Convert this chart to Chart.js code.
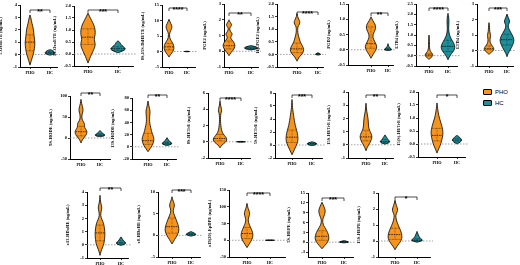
<!DOCTYPE html>
<html>
<head>
<meta charset="utf-8">
<script src="https://cdn.jsdelivr.net/npm/chart.js@4.4.0/dist/chart.umd.min.js"></script>
<style>
  body { margin: 0; width: 520px; height: 265px; background: #fff; position: relative; overflow: hidden; }
  canvas { position: absolute; }
  .lg { position: absolute; font-family: "Liberation Sans", Arial, sans-serif; font-size: 6px; color: #000; line-height: 6px; }
  .sw { display: inline-block; width: 7px; height: 4px; border: 0.6px solid #000; border-radius: 1px; vertical-align: middle; margin-right: 3px; }
</style>
</head>
<body>
<div class="lg" style="left:483px;top:89px"><span class="sw" style="background:#F7941D"></span>PHO</div>
<div class="lg" style="left:483px;top:100px"><span class="sw" style="background:#1F8E99"></span>HC</div>
<script>
// ---- data ----
const groups = ['PHO', 'HC'];
const analytes = ['5-OxoETE', '15-OxoETE', '8S,15S-DiHETE', 'PGE2', '11β-PGE2', 'PGD2', 'LTB4', 'LTD4',
  '9S-HODE', '13S-HODE', '8S-HETrE', '5S-HETrE', '15S-HETrE', '15(S)-HETrE',
  '±13-HDoHE', '±8-HDoHE', '±19(20)-EpDPE', '5S-HEPE', '15S-HEPE'];
const stars = ['**', '***', '****', '**', '****', '**', '****', '***',
  '**', '**', '****', '***', '**', '*',
  '**', '***', '****', '***', '*'];
const yMin = [-1, -0.5, -5, -1, -0.5, -0.5, -0.5, -1, -50, -20, -2, -2, -1, -0.5, -1, -5, -50, -4.5, -1];
const yMax = [4, 2, 15, 3, 2, 1.5, 2.5, 3, 100, 80, 6, 8, 4, 2, 4, 10, 150, 15, 3];
const yStep = [1, 0.5, 5, 1, 0.5, 0.5, 0.5, 1, 50, 20, 2, 2, 1, 0.5, 1, 5, 50, 3, 1];

// violin profiles: value levels and relative density (0..1)
const phoY = [
  [-0.85, -0.5, 0, 0.5, 1.0, 1.5, 2.0, 2.5, 3.0, 3.2],
  [-0.38, -0.2, 0, 0.2, 0.4, 0.6, 0.8, 1.0, 1.2, 1.4, 1.55, 1.7],
  [-1.8, -1, 0, 1, 2, 3, 4, 5, 6, 7, 8, 9, 10.4],
  [-0.28, -0.1, 0.1, 0.3, 0.5, 0.7, 0.85, 1.0, 1.1, 1.2, 1.35, 1.5, 1.65, 1.75, 1.9, 2.0],
  [-0.27, -0.1, 0.05, 0.2, 0.35, 0.5, 0.65, 0.8, 0.95, 1.1, 1.2, 1.3, 1.4, 1.5, 1.62],
  [-0.28, -0.15, -0.02, 0.1, 0.22, 0.35, 0.45, 0.55, 0.65, 0.75, 0.85, 0.95, 1.08],
  [-0.18, -0.08, 0, 0.08, 0.15, 0.25, 0.4, 0.6, 0.8, 1.0],
  [-0.25, -0.1, 0.05, 0.2, 0.35, 0.5, 0.7, 0.9, 1.05, 1.2, 1.5, 1.8],
  [-12, -5, 0, 5, 10, 15, 20, 25, 30, 35, 40, 45, 55, 62, 68, 75, 82, 92],
  [-8, -3, 2, 7, 12, 17, 22, 27, 32, 38, 45, 52, 58, 63, 68, 75],
  [-0.75, -0.4, -0.1, 0.2, 0.5, 0.8, 1.1, 1.5, 2.0, 2.5, 3.0, 3.5, 3.8, 4.1, 4.5, 5.0],
  [-1.5, -1, -0.5, 0, 0.5, 1, 1.5, 2, 2.5, 3, 3.5, 4, 4.5, 5, 5.5, 6, 7],
  [-0.45, -0.2, 0, 0.2, 0.4, 0.6, 0.8, 1.0, 1.2, 1.5, 1.8, 2.1, 2.4, 2.7, 3.15],
  [-0.35, -0.2, -0.05, 0.1, 0.25, 0.4, 0.55, 0.7, 0.85, 1.0, 1.15, 1.3, 1.45, 1.58],
  [-0.8, -0.5, -0.2, 0.1, 0.4, 0.8, 1.2, 1.6, 1.9, 2.2, 2.5, 2.8, 3.1, 3.4, 3.75],
  [-2, -1, 0, 1, 2, 3, 4, 5, 5.7, 6.5, 7, 7.6, 8.2, 8.9],
  [-22, -12, -2, 8, 18, 28, 38, 48, 58, 66, 74, 82, 90, 100, 110],
  [-2, -1, 0, 1, 2, 3, 4, 5, 6, 7, 8, 9, 10, 11, 12.2],
  [-0.55, -0.35, -0.15, 0.05, 0.25, 0.45, 0.65, 0.85, 1.05, 1.3, 1.6, 1.8, 2.0, 2.2, 2.55]
];
const phoD = [
  [0, 0.25, 0.65, 0.9, 1, 0.8, 0.72, 0.4, 0.16, 0],
  [0, 0.2, 0.45, 0.75, 0.95, 0.75, 0.9, 0.9, 0.75, 0.45, 0.22, 0],
  [0, 0.3, 0.8, 1, 0.93, 0.65, 0.22, 0.1, 0.14, 0.43, 0.65, 0.36, 0],
  [0, 0.3, 0.75, 1, 0.93, 0.55, 0.22, 0.45, 0.55, 0.37, 0.11, 0.15, 0.45, 0.37, 0.11, 0],
  [0, 0.3, 0.85, 1, 0.75, 0.45, 0.3, 0.15, 0.09, 0.12, 0.36, 0.42, 0.24, 0.09, 0],
  [0, 0.35, 0.8, 1, 0.75, 0.4, 0.3, 0.45, 0.7, 0.8, 0.65, 0.3, 0],
  [0, 0.6, 1, 0.9, 0.6, 0.25, 0.12, 0.1, 0.08, 0],
  [0, 0.5, 1, 0.9, 0.5, 0.25, 0.18, 0.3, 0.3, 0.15, 0.1, 0],
  [0, 0.2, 0.45, 0.75, 0.95, 1, 0.85, 0.6, 0.6, 0.55, 0.35, 0.15, 0.15, 0.3, 0.35, 0.25, 0.1, 0],
  [0, 0.35, 0.7, 0.9, 1, 0.9, 0.7, 0.55, 0.45, 0.3, 0.25, 0.3, 0.35, 0.25, 0.12, 0],
  [0, 0.25, 0.75, 1, 0.9, 0.6, 0.35, 0.2, 0.12, 0.07, 0.07, 0.12, 0.25, 0.2, 0.08, 0],
  [0, 0.25, 0.5, 0.75, 0.95, 1, 0.95, 0.85, 0.7, 0.55, 0.45, 0.35, 0.28, 0.2, 0.12, 0.06, 0],
  [0, 0.2, 0.45, 0.7, 0.9, 1, 0.9, 0.7, 0.5, 0.4, 0.38, 0.3, 0.18, 0.08, 0],
  [0, 0.25, 0.55, 0.75, 0.9, 1, 0.95, 0.8, 0.6, 0.4, 0.25, 0.15, 0.06, 0],
  [0, 0.2, 0.5, 0.8, 0.9, 1, 0.9, 0.75, 0.4, 0.12, 0.2, 0.4, 0.2, 0.06, 0],
  [0, 0.35, 0.75, 1, 0.95, 0.75, 0.5, 0.25, 0.15, 0.3, 0.35, 0.25, 0.1, 0],
  [0, 0.35, 0.7, 0.95, 1, 0.85, 0.6, 0.35, 0.2, 0.25, 0.4, 0.45, 0.3, 0.1, 0],
  [0, 0.4, 0.8, 1, 0.95, 0.8, 0.55, 0.25, 0.1, 0.1, 0.3, 0.45, 0.45, 0.25, 0],
  [0, 0.25, 0.6, 0.9, 1, 0.95, 0.8, 0.6, 0.4, 0.2, 0.08, 0.3, 0.4, 0.2, 0]
];
const hcY = [
  [-0.05, 0.05, 0.15, 0.25, 0.35, 0.4],
  [0.05, 0.12, 0.2, 0.3, 0.4, 0.5, 0.55],
  [-0.1, 0, 0.1],
  [0.08, 0.15, 0.22, 0.3, 0.36],
  [-0.03, 0.0, 0.03, 0.07],
  [-0.03, 0.0, 0.03, 0.08, 0.15, 0.2],
  [-0.2, -0.05, 0.1, 0.25, 0.4, 0.55, 0.7, 0.85, 1.0, 1.2, 1.4, 1.6, 1.8, 1.95, 2.05],
  [-0.4, -0.2, 0, 0.2, 0.4, 0.6, 0.8, 1.0, 1.2, 1.4, 1.6, 1.75, 1.9, 2.1, 2.35],
  [3, 5, 8, 11, 14, 18],
  [2, 4, 6, 8, 11, 15],
  [-0.05, 0, 0.05],
  [-0.1, 0.05, 0.2, 0.35, 0.5],
  [0.05, 0.15, 0.25, 0.4, 0.55, 0.75],
  [0, 0.08, 0.15, 0.22, 0.3, 0.33],
  [-0.05, 0.05, 0.15, 0.3, 0.45, 0.6],
  [-0.2, 0.1, 0.3, 0.6, 0.9],
  [-1, 0, 1],
  [-0.2, 0, 0.2, 0.5],
  [-0.08, 0, 0.05, 0.15, 0.3, 0.45, 0.6]
];
const hcD = [
  [0, 0.9, 1, 0.8, 0.45, 0],
  [0, 0.55, 1, 0.7, 0.35, 0.2, 0],
  [0, 1, 0],
  [0, 0.8, 1, 0.6, 0],
  [0, 1, 0.6, 0],
  [0, 1, 0.8, 0.3, 0.1, 0],
  [0, 0.2, 0.5, 0.85, 1, 0.9, 0.65, 0.4, 0.22, 0.1, 0.1, 0.14, 0.12, 0.06, 0],
  [0, 0.15, 0.4, 0.65, 0.85, 1, 0.95, 0.75, 0.5, 0.25, 0.15, 0.3, 0.4, 0.2, 0],
  [0, 0.9, 1, 0.5, 0.3, 0],
  [0, 0.9, 1, 0.6, 0.3, 0],
  [0, 1, 0],
  [0, 0.8, 1, 0.7, 0],
  [0, 0.8, 1, 0.6, 0.35, 0],
  [0, 0.7, 1, 0.7, 0.3, 0],
  [0, 0.8, 1, 0.5, 0.25, 0],
  [0, 0.9, 1, 0.5, 0],
  [0, 1, 0],
  [0, 1, 0.8, 0],
  [0, 0.7, 1, 0.6, 0.3, 0.15, 0]
];
// quartiles [Q1, median, Q3]
const phoQ = [[0.3, 1.0, 1.6], [0.4, 0.7, 1.05], [0.5, 1.5, 2.6], [0.15, 0.35, 0.65], [0.07, 0.22, 0.45],
  [0.05, 0.2, 0.75], [-0.02, 0.03, 0.1], [0.05, 0.12, 0.3], [5, 15, 28], [4, 10, 22], [0.1, 0.4, 0.9],
  [0.4, 1.2, 2.3], [0.3, 0.6, 1.1], [0.12, 0.33, 0.6], [0.3, 0.9, 1.5], [0.5, 2, 4], [5, 20, 38],
  [0.6, 1.8, 3.5], [0.1, 0.4, 0.8]];
const hcQ = [[0.08, 0.15, 0.25], [0.15, 0.22, 0.3], [0, 0, 0], [0.15, 0.2, 0.26], [0.01, 0.02, 0.04],
  [0, 0.02, 0.05], [0.2, 0.45, 0.75], [0.35, 0.7, 1.05], [5, 7, 10], [4, 6, 8], [0, 0, 0],
  [0.1, 0.2, 0.3], [0.15, 0.25, 0.4], [0.08, 0.15, 0.22], [0.05, 0.15, 0.3], [0.1, 0.3, 0.5],
  [0, 0, 0], [0, 0.1, 0.2], [0, 0.05, 0.15]];

// ---- layout (pixels): y-axis x, PHO x, HC x, right edge, top, bottom, bracket offset ----
const boxes = [
  [20, 30, 50, 57, 5, 67, 5], [74, 88, 118, 133, 6, 66, 4], [162, 169, 187, 195, 5, 67, 3],
  [224, 229, 251, 258, 4, 67, 9], [277, 297, 318, 323, 4, 67, 8], [348, 371, 388, 393, 4, 65, 9],
  [416, 429, 448, 457, 4, 66, 4], [477, 489, 507, 513, 4, 66, 4],
  [70, 81, 100, 110, 96, 159, -3], [132, 148, 167, 176, 98, 159, -3], [208, 220, 241, 250, 93, 158, 5],
  [275, 292, 312, 322, 93, 158, 2], [348, 366, 385, 393, 92, 158, 3], [418, 437, 457, 465, 92, 157, 3],
  [87, 100, 121, 128, 192, 258, -4], [158, 172, 191, 200, 192, 257, -2], [229, 247, 270, 285, 190, 257, 3],
  [308, 322, 344, 353, 193, 257, 5], [378, 395, 417, 430, 193, 257, 4]
];
const phoHalf = [5, 8, 5, 6, 7, 6, 4, 5, 6, 6, 7, 6, 6, 6, 5, 7, 6, 7, 7];
const hcHalf = [5, 8, 3, 7, 3, 4, 7, 7, 5, 5, 5, 5, 5, 5, 5, 5, 5, 5, 6];
const colors = { PHO: '#F7941D', HC: '#1F8E99' };
const serif = '"Liberation Serif", "Times New Roman", serif';

function widthAt(ys, ds, v) {
  if (v <= ys[0] || v >= ys[ys.length - 1]) return 0;
  for (let i = 1; i < ys.length; i++) {
    if (v <= ys[i]) {
      const t = (v - ys[i - 1]) / (ys[i] - ys[i - 1]);
      return ds[i - 1] + t * (ds[i] - ds[i - 1]);
    }
  }
  return 0;
}

const violinPlugin = {
  id: 'violin',
  beforeDatasetsDraw(chart) {
    const { ctx, chartArea: a, scales: { y } } = chart;
    const y0 = y.getPixelForValue(0);
    ctx.save();
    ctx.strokeStyle = '#8a8a8a';
    ctx.lineWidth = 0.8;
    ctx.setLineDash([1.5, 1.5]);
    ctx.beginPath();
    ctx.moveTo(a.left, y0);
    ctx.lineTo(a.right + 4, y0);
    ctx.stroke();
    ctx.restore();
  },
  afterDatasetsDraw(chart, args, opts) {
    const { ctx, chartArea: a, scales: { x, y } } = chart;
    ctx.save();
    chart.data.datasets.forEach(ds => {
      const v = ds.violin;
      const cx = x.getPixelForValue(ds.data[0].x);
      const R = v.ys.map((val, i) => [cx + v.ds[i] * v.half, y.getPixelForValue(val)]);
      const L = v.ys.map((val, i) => [cx - v.ds[i] * v.half, y.getPixelForValue(val)]).reverse();
      const pts = R.concat(L);
      const n = pts.length;
      const mid = (p, q) => [(p[0] + q[0]) / 2, (p[1] + q[1]) / 2];
      ctx.beginPath();
      let m = mid(pts[n - 1], pts[0]);
      ctx.moveTo(m[0], m[1]);
      for (let i = 0; i < n; i++) {
        const p = pts[i], q = pts[(i + 1) % n];
        const mm = mid(p, q);
        ctx.quadraticCurveTo(p[0], p[1], mm[0], mm[1]);
      }
      ctx.closePath();
      ctx.fillStyle = v.color;
      ctx.fill();
      ctx.lineWidth = 0.8;
      ctx.strokeStyle = '#000';
      ctx.stroke();
      // quartile lines
      v.q.forEach((qv, k) => {
        const w = widthAt(v.ys, v.ds, qv) * v.half * 0.9;
        if (w < 1) return;
        const py = y.getPixelForValue(qv);
        ctx.beginPath();
        ctx.setLineDash(k === 1 ? [1.6, 0.8] : [0.7, 0.7]);
        ctx.lineWidth = k === 1 ? 0.7 : 0.5;
        ctx.moveTo(cx - w, py);
        ctx.lineTo(cx + w, py);
        ctx.stroke();
      });
      ctx.setLineDash([]);
      // vertical center dotted line
      ctx.beginPath();
      ctx.setLineDash([0.6, 0.9]);
      ctx.lineWidth = 0.5;
      ctx.moveTo(cx, y.getPixelForValue(v.q[0]));
      ctx.lineTo(cx, y.getPixelForValue(v.q[2]));
      ctx.stroke();
      ctx.setLineDash([]);
    });
    // significance bracket
    const px = x.getPixelForValue(1), hx = x.getPixelForValue(2);
    const by = a.top + opts.offset;
    ctx.strokeStyle = '#000';
    ctx.lineWidth = 0.7;
    ctx.beginPath();
    ctx.moveTo(px, by + 3);
    ctx.lineTo(px, by);
    ctx.lineTo(hx, by);
    ctx.lineTo(hx, by + 3);
    ctx.stroke();
    ctx.fillStyle = '#000';
    ctx.font = 'bold 7px "Liberation Sans", Arial, sans-serif';
    ctx.textAlign = 'center';
    ctx.textBaseline = 'alphabetic';
    ctx.fillText(opts.stars, (px + hx) / 2, by + 3.5);
    ctx.restore();
  }
};

const YW = 22, XH = 9, PT = 12, PR = 3;

analytes.forEach((name, i) => {
  const [ax, pX, hX, rX, tY, bY, off] = boxes[i];
  const span = hX - pX;
  const xMin = 1 - (pX - ax) / span;
  const xMax = 2 + (rX - hX) / span;
  const cv = document.createElement('canvas');
  const w = rX - ax + YW + PR, h = bY - tY + PT + XH;
  cv.width = w; cv.height = h;
  cv.style.left = (ax - YW) + 'px';
  cv.style.top = (tY - PT) + 'px';
  cv.style.width = w + 'px'; cv.style.height = h + 'px';
  document.body.appendChild(cv);

  const step = yStep[i];
  new Chart(cv.getContext('2d'), {
    type: 'scatter',
    data: {
      datasets: [
        { label: groups[0], data: [{ x: 1, y: phoQ[i][1] }], pointRadius: 0,
          violin: { ys: phoY[i], ds: phoD[i], q: phoQ[i], half: phoHalf[i], color: colors.PHO } },
        { label: groups[1], data: [{ x: 2, y: hcQ[i][1] }], pointRadius: 0,
          violin: { ys: hcY[i], ds: hcD[i], q: hcQ[i], half: hcHalf[i], color: colors.HC } }
      ]
    },
    options: {
      responsive: false,
      animation: false,
      devicePixelRatio: 1,
      layout: { padding: { top: PT, right: PR, left: 0, bottom: 0 } },
      plugins: {
        legend: { display: false },
        tooltip: { enabled: false },
        violin: { stars: stars[i], offset: off }
      },
      scales: {
        x: {
          type: 'linear', min: xMin, max: xMax,
          afterBuildTicks: s => { s.ticks = [{ value: 1 }, { value: 2 }]; },
          afterFit: s => { s.height = XH; },
          grid: { display: true, drawOnChartArea: false, drawTicks: true, tickLength: 2, color: '#000', lineWidth: 0.8 },
          border: { display: true, color: '#000', width: 1 },
          ticks: {
            callback: v => (v === 1 ? groups[0] : groups[1]),
            font: { family: serif, size: 4.2, weight: 'bold' }, color: '#000', padding: 1, maxRotation: 0
          }
        },
        y: {
          min: yMin[i], max: yMax[i],
          afterBuildTicks: s => {
            const t = [];
            const start = Math.ceil(yMin[i] / step - 1e-9);
            for (let k = start; k * step <= yMax[i] + 1e-9; k++) t.push({ value: +(k * step).toFixed(6) });
            s.ticks = t;
          },
          afterFit: s => { s.width = YW; },
          grid: { display: true, drawOnChartArea: false, drawTicks: true, tickLength: 2, color: '#000', lineWidth: 0.8 },
          border: { display: true, color: '#000', width: 1 },
          title: { display: true, text: name + ' (ng/mL)', font: { family: serif, size: 4.5, weight: 'bold' }, color: '#000', padding: 0 },
          ticks: {
            callback: v => (step < 1 ? v.toFixed(1) : String(v)),
            font: { family: serif, size: 4.5, weight: 'bold' }, color: '#000', padding: 1
          }
        }
      }
    },
    plugins: [violinPlugin]
  });
});
</script>
</body>
</html>
